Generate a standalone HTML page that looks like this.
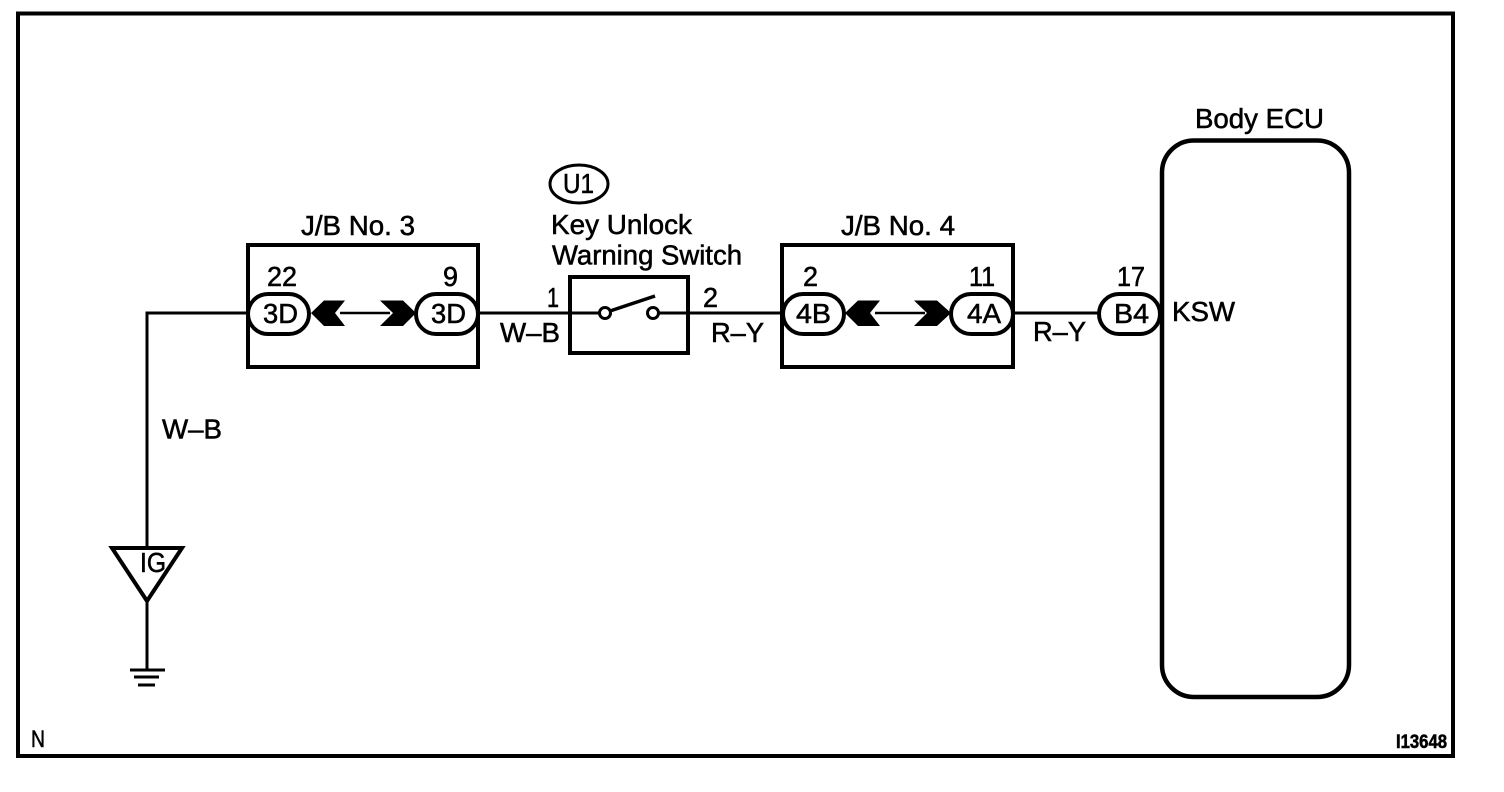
<!DOCTYPE html>
<html><head><meta charset="utf-8"><style>
html,body{margin:0;padding:0;background:#fff;width:1504px;height:792px;overflow:hidden}
svg{display:block}
text{font-family:"Liberation Sans",sans-serif;font-size:27.5px;fill:#000;stroke:#000;stroke-width:.55px}
.b{fill:none;stroke:#000;stroke-width:4}
.w{fill:none;stroke:#000;stroke-width:3}
.p{fill:#fff;stroke:#000;stroke-width:4}
</style></head><body>
<svg width="1504" height="792" viewBox="0 0 1504 792" xmlns="http://www.w3.org/2000/svg">
<rect x="18" y="13.5" width="1435" height="742.5" class="b"/>
<!-- wires -->
<path class="w" d="M147 547V313H248M478 313H606M652 313H783M1013 313H1100M147 602V670"/>
<path d="M340 313H390M875 313H925" fill="none" stroke="#000" stroke-width="2.5"/>
<!-- J/B boxes -->
<rect x="248" y="245" width="230" height="122" class="b"/>
<rect x="782" y="245" width="231" height="122" class="b"/>
<!-- switch -->
<rect x="570" y="277" width="118" height="76" class="b"/>
<circle cx="605" cy="313" r="5.5" fill="#fff" stroke="#000" stroke-width="3"/>
<circle cx="653" cy="313" r="5.5" fill="#fff" stroke="#000" stroke-width="3"/>
<path d="M610 311L655 296" stroke="#000" stroke-width="3.5" fill="none"/>
<!-- ECU -->
<rect x="1162" y="140.5" width="187" height="556.5" rx="32" ry="32" fill="none" stroke="#000" stroke-width="4.5"/>
<!-- pills -->
<rect x="248" y="294" width="61" height="40" rx="20" class="p"/>
<rect x="416" y="294" width="62" height="40" rx="20" class="p"/>
<rect x="783" y="294" width="61" height="40" rx="20" class="p"/>
<rect x="951" y="294" width="62" height="40" rx="20" class="p"/>
<rect x="1099" y="294" width="61" height="40" rx="20" class="p"/>
<!-- arrows -->
<polygon points="311,313 324,300.5 345,300.5 335,313 345,326 324,326"/>
<polygon points="380,300.5 403,300.5 416,313 403,326 380,326 393,313"/>
<polygon points="845,313 858,300.5 880,300.5 870,313 880,326 858,326"/>
<polygon points="914,300.5 937,300.5 951,313 937,326 914,326 927,313"/>
<!-- IG symbol -->
<polygon points="112,548 182,548 147,601" fill="none" stroke="#000" stroke-width="4"/>
<path d="M130 670H165M134 677H159M138 685H155" stroke="#000" stroke-width="3" fill="none"/>
<!-- U1 -->
<ellipse cx="579" cy="184" rx="29" ry="19" class="w"/>
<!-- labels -->
<text x="563" y="193" textLength="31" lengthAdjust="spacingAndGlyphs">U1</text>
<text x="551" y="234" textLength="141" lengthAdjust="spacingAndGlyphs">Key Unlock</text>
<text x="552" y="264.5" textLength="190" lengthAdjust="spacingAndGlyphs">Warning Switch</text>
<text x="301" y="235" textLength="114" lengthAdjust="spacingAndGlyphs">J/B No. 3</text>
<text x="841" y="235" textLength="114" lengthAdjust="spacingAndGlyphs">J/B No. 4</text>
<text x="1195" y="128" textLength="129" lengthAdjust="spacingAndGlyphs">Body ECU</text>
<text x="267" y="286" textLength="30" lengthAdjust="spacingAndGlyphs">22</text>
<text x="443" y="286" textLength="15" lengthAdjust="spacingAndGlyphs">9</text>
<text x="803" y="286" textLength="15" lengthAdjust="spacingAndGlyphs">2</text>
<text x="969" y="286" textLength="26" lengthAdjust="spacingAndGlyphs">11</text>
<text x="1117" y="286" textLength="28" lengthAdjust="spacingAndGlyphs">17</text>
<text x="547" y="307" textLength="12" lengthAdjust="spacingAndGlyphs">1</text>
<text x="703" y="307" textLength="15" lengthAdjust="spacingAndGlyphs">2</text>
<text x="263" y="323" textLength="35" lengthAdjust="spacingAndGlyphs">3D</text>
<text x="431" y="323" textLength="35" lengthAdjust="spacingAndGlyphs">3D</text>
<text x="796" y="323" textLength="35" lengthAdjust="spacingAndGlyphs">4B</text>
<text x="967" y="323" textLength="34" lengthAdjust="spacingAndGlyphs">4A</text>
<text x="1114" y="323" textLength="35" lengthAdjust="spacingAndGlyphs">B4</text>
<text x="1172" y="321" textLength="63" lengthAdjust="spacingAndGlyphs">KSW</text>
<text x="500" y="342" textLength="60" lengthAdjust="spacingAndGlyphs">W–B</text>
<text x="711" y="342" textLength="53" lengthAdjust="spacingAndGlyphs">R–Y</text>
<text x="1033" y="341" textLength="53" lengthAdjust="spacingAndGlyphs">R–Y</text>
<text x="162" y="438.5" textLength="60" lengthAdjust="spacingAndGlyphs">W–B</text>
<text x="140" y="572" textLength="26" lengthAdjust="spacingAndGlyphs">IG</text>
<text x="31" y="747" style="font-size:24px" textLength="14" lengthAdjust="spacingAndGlyphs">N</text>
<text x="1396" y="748" style="font-size:19px;font-weight:bold" textLength="51" lengthAdjust="spacingAndGlyphs">I13648</text>
</svg>
</body></html>
